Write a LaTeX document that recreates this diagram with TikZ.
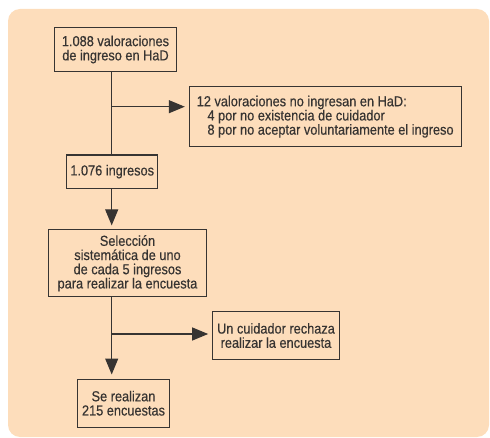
\documentclass[tikz,border=0pt]{standalone}
\usepackage{fontspec}
\setmainfont{Liberation Sans}[FakeStretch=0.88, FakeBold=0.4]
\usetikzlibrary{arrows.meta}
\definecolor{peach}{RGB}{253,221,187}
\definecolor{ink}{RGB}{55,52,50}
\tikzset{
  box/.style={draw=ink, line width=1.1pt, text=ink, inner sep=0pt, align=center,
    font=\fontsize{14.5}{14.2}\selectfont},
  flow/.style={draw=ink, line width=1.1pt},
  arr/.style={flow, -{Triangle[length=16pt,width=13pt]}, shorten >=4pt}
}
\begin{document}
\begin{tikzpicture}[x=1pt, y=-1pt]
      \useasboundingbox (0,0) rectangle (490,438);
      \fill[peach, rounded corners=12pt] (8,9) rectangle (489,437);
      \draw
        (115.5,49.5) node[box, minimum width=122.4pt, minimum height=44.4pt] (valor)
          {1.088 valoraciones\\de ingreso en HaD}
        (325.2,116.7) node[box, minimum width=271.7pt, minimum height=60pt, align=left] (noingr)
          {12 valoraciones no ingresan en HaD:\\
           \hspace*{10.7pt}4 por no existencia de cuidador\\
           \hspace*{10.7pt}8 por no aceptar voluntariamente el ingreso}
        (112.2,171.7) node[box, minimum width=91pt, minimum height=33.3pt] (ingr)
          {1.076 ingresos}
        (127.5,263.3) node[box, minimum width=158.4pt, minimum height=66.7pt] (selec)
          {Selección\\sistemática de uno\\de cada 5 ingresos\\para realizar la encuesta}
        (276,335.5) node[box, minimum width=126.6pt, minimum height=47.6pt] (rechaza)
          {Un cuidador rechaza\\realizar la encuesta}
        (123.5,403.2) node[box, minimum width=91.6pt, minimum height=48.3pt] (encu)
          {Se realizan\\215 encuestas};
      \coordinate (spine) at (111.7,0);
      \coordinate (br1) at (111.7,106.7);
      \coordinate (br2) at (111.7,334);
      \begin{scope}
        \draw[flow] (valor.south -| spine) to (ingr.north -| spine);
        \draw[arr] (br1) to (br1 -| noingr.west);
        \draw[arr] (ingr.south -| spine) to (selec.north -| spine);
        \draw[arr] (selec.south -| spine) to (encu.north -| spine);
        \draw[arr] (br2) to (br2 -| rechaza.west);
      \end{scope}
    \end{tikzpicture}
\end{document}
